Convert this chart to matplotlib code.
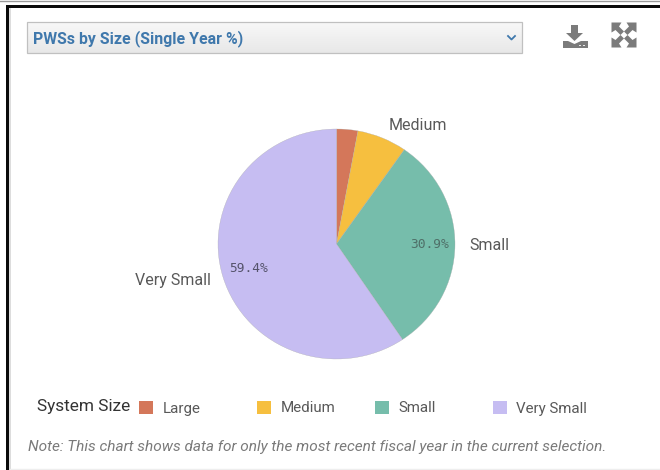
import matplotlib
matplotlib.use('Agg')
import matplotlib.pyplot as plt
from matplotlib.patches import Rectangle, Polygon
import numpy as np

plt.rcParams['font.family'] = ['Roboto', 'DejaVu Sans']

sizes = ["Large", "Medium", "Small", "Very Small"]
shares = [2.9, 6.8, 30.9, 59.4]
colors = ["#d4775a", "#f6bf3f", "#76bdab", "#c6bdf2"]
text_grey = "#595959"

W, H = 660, 470
fig = plt.figure(figsize=(W / 100, H / 100), dpi=100, facecolor="white")

# page layer in pixel coordinates, y pointing down
bg = fig.add_axes([0, 0, 1, 1])
bg.set_xlim(0, W)
bg.set_ylim(H, 0)
bg.axis("off")

# panel frame
bg.add_patch(Rectangle((6, 5), W - 6, 3, color="#0a0a0a", lw=0))
bg.add_patch(Rectangle((6, 5), 3, H - 5, color="#0a0a0a", lw=0))
bg.add_patch(Rectangle((9, 8), 1.5, H - 8, color="#dddddd", lw=0))
bg.plot([0, W], [0.5, 0.5], color="#999999", lw=1)
bg.plot([10, W], [468.5, 468.5], color="#eeeeee", lw=1)

# dropdown with a soft vertical gradient
grad = np.linspace(0, 1, 32).reshape(-1, 1)
bg.imshow(grad, extent=(27, 522, 53, 22), cmap=matplotlib.colors.LinearSegmentedColormap.from_list(
    "drop", ["#f8f8f8", "#e8e8e8"]), aspect="auto", zorder=1)
bg.set_xlim(0, W)
bg.set_ylim(H, 0)
bg.add_patch(Rectangle((27, 22), 495, 31, fill=False, ec="#c0c0c0", lw=0.9, zorder=2))
bg.text(33, 38.5, "PWSs by Size (Single Year %)", fontsize=11.4, fontweight="bold",
        color="#3f78ac", va="center", ha="left", zorder=3)
bg.plot([508, 511.5, 515], [36, 39.5, 36], color="#3f78ac", lw=1.3, zorder=3)

# download icon
icon = "#7b7b7b"
bg.add_patch(Polygon([(571, 25), (578, 25), (578, 33), (583, 33), (574.5, 41), (566, 33), (571, 33)],
                     color=icon, lw=0))
bg.add_patch(Polygon([(563, 41), (568, 41), (574.5, 44), (581, 41), (588, 41), (588, 48), (563, 48)],
                     color=icon, lw=0))
bg.add_patch(Rectangle((579, 44.5), 2, 1.5, color="#e8e8e8", lw=0))
bg.add_patch(Rectangle((583, 44.5), 2, 1.5, color="#e8e8e8", lw=0))

# expand icon: four corner arrows joined at the middle
cx, cy = 624, 35
for sx, sy in [(-1, -1), (1, -1), (-1, 1), (1, 1)]:
    bg.add_patch(Polygon([(cx + sx * 12.5, cy + sy * 12.5), (cx + sx * 2.5, cy + sy * 12.5),
                          (cx + sx * 5, cy + sy * 8.5), (cx, cy + sy * 3.5),
                          (cx + sx * 3.5, cy), (cx + sx * 8.5, cy + sy * 5),
                          (cx + sx * 12.5, cy + sy * 2.5)], color=icon, lw=0))

# pie, clockwise from twelve o'clock
px0, px1, py0, py1 = 218, 455, 129, 359
pie_ax = fig.add_axes([px0 / W, 1 - py1 / H, (px1 - px0) / W, (py1 - py0) / H])
pie_ax.pie(shares, colors=colors, startangle=90, counterclock=False, radius=1,
           wedgeprops={"edgecolor": "#a8a8a8", "linewidth": 0.2})
pie_ax.set_aspect("auto")
pie_ax.set_xlim(-1, 1)
pie_ax.set_ylim(-1, 1)

# slice labels
bg.set_zorder(0)
pie_ax.set_zorder(1)
top = fig.add_axes([0, 0, 1, 1], facecolor="none", zorder=2)
top.set_xlim(0, W)
top.set_ylim(H, 0)
top.axis("off")
top.text(417.5, 125.5, sizes[1], fontsize=11.5, color=text_grey, ha="center", va="center")
top.text(489, 245.5, sizes[2], fontsize=11.5, color=text_grey, ha="center", va="center")
top.text(172.5, 281, sizes[3], fontsize=11.5, color=text_grey, ha="center", va="center")
top.text(430, 245, f"{shares[2]}%", fontsize=9.3, color="#4f6f68", ha="center", va="center",
         family="DejaVu Sans Mono")
top.text(249, 269, f"{shares[3]}%", fontsize=9.3, color="#55536b", ha="center", va="center",
         family="DejaVu Sans Mono")

# legend row
top.text(37, 407, "System Size", fontsize=12.4, color="#333333", ha="left", va="center")
swatch_x = [139, 257, 375, 493]
label_x = [163, 281, 398, 516]
for name, col, sx, lx in zip(sizes, colors, swatch_x, label_x):
    top.add_patch(Rectangle((sx, 400.5), 13.5, 13.5, color=col, lw=0))
    top.text(lx, 408.5, name, fontsize=10.9, color=text_grey, ha="left", va="center")

top.text(28, 446.5, "Note: This chart shows data for only the most recent fiscal year in the current selection.",
         fontsize=11.05, style="italic", color="#7a7a7a", ha="left", va="center")

fig.savefig("out.png", dpi=100)
